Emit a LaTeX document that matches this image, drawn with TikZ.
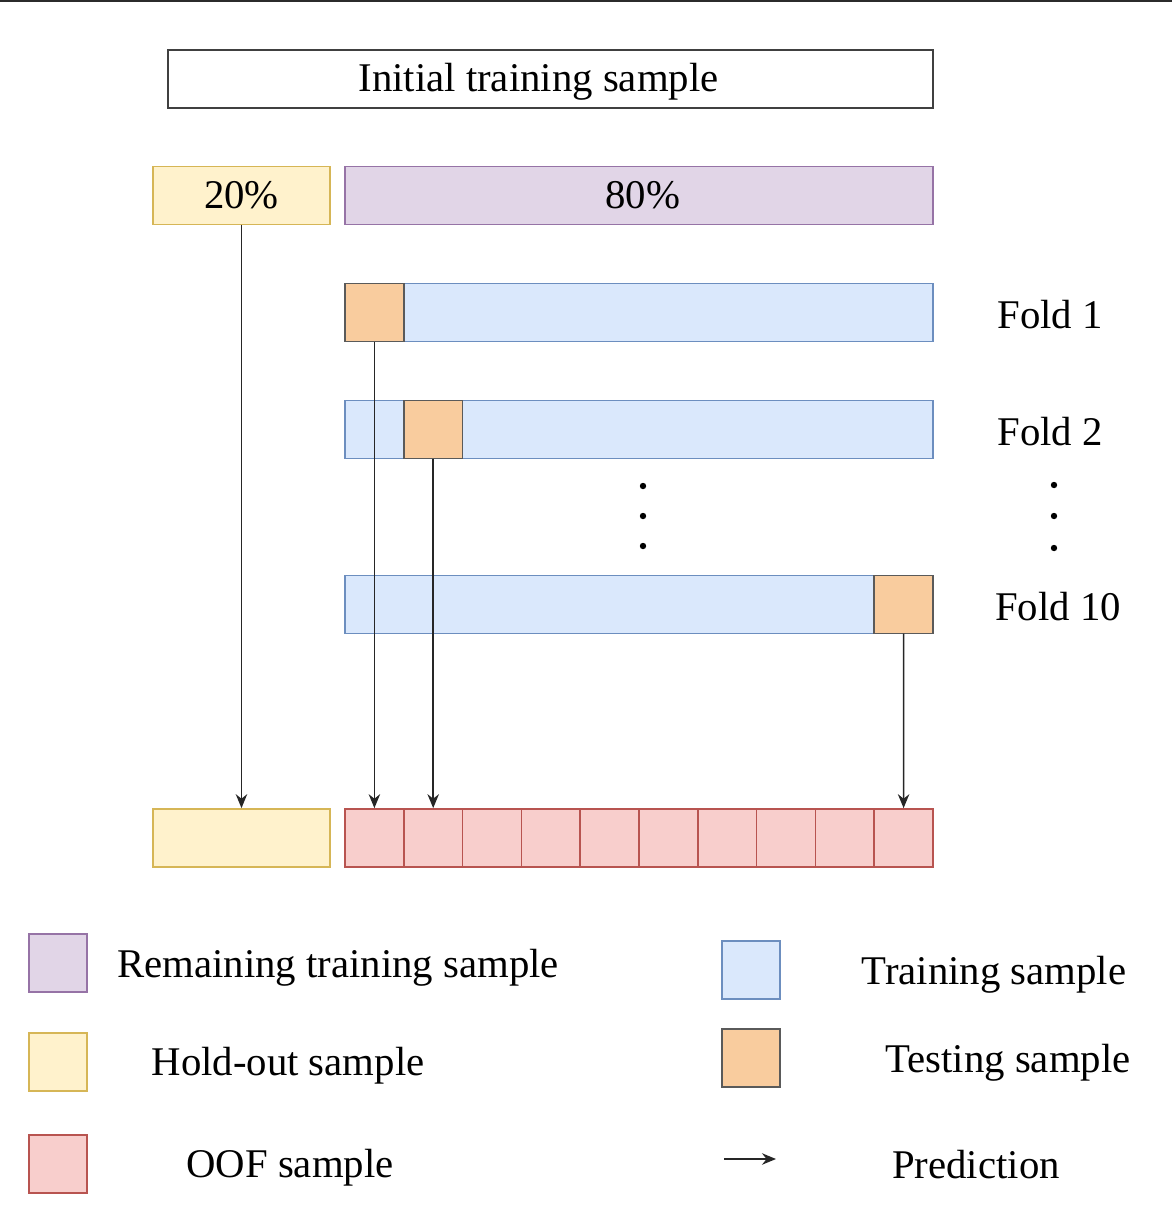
\documentclass[tikz,border=0pt]{standalone}
\usepackage{fontspec}
\setmainfont{Liberation Serif}
\usepackage{tikz}
\usetikzlibrary{arrows.meta, positioning}
\usepackage{xcolor}
\definecolor{holdFill}{HTML}{FFF2CC}
\definecolor{holdLine}{HTML}{D6B656}
\definecolor{remFill}{HTML}{E1D5E7}
\definecolor{remLine}{HTML}{9673A6}
\definecolor{trainFill}{HTML}{DAE8FC}
\definecolor{trainLine}{HTML}{6C8EBF}
\definecolor{testFill}{HTML}{F9CC9E}
\definecolor{testLine}{HTML}{5A5A5A}
\definecolor{oofFill}{HTML}{F8CECC}
\definecolor{oofLine}{HTML}{B85450}
\definecolor{frameGray}{HTML}{2B2B2B}

\begin{document}
\begin{tikzpicture}[
  x=0.02cm, y=-0.02cm,
  font=\fontsize{23.2}{28}\selectfont,
  >={Stealth[length=2.8mm, width=2.3mm]},
  box/.style={rectangle, line width=0.9pt, inner sep=0pt, outer sep=0pt,
              minimum height=1.16cm},
  initbox/.style={box, draw=black!75, fill=white, minimum width=15.3cm,
                  text height=0.68cm, text depth=0.18cm},
  holdbox/.style={box, draw=holdLine, fill=holdFill, minimum width=3.54cm},
  rembox/.style={box, draw=remLine, fill=remFill, minimum width=11.76cm},
  trainbar/.style={box, draw=trainLine, fill=trainFill, minimum width=11.76cm},
  testcell/.style={box, draw=testLine, fill=testFill, minimum width=1.176cm},
  oofcell/.style={box, draw=oofLine, fill=oofFill, minimum width=1.176cm},
  legsq/.style={box, minimum width=1.16cm},
  arrow/.style={->, draw=black!85, line width=0.8pt},
]

% ── Canvas ─────────────────────────────────────────────────────────
\useasboundingbox (0,0) rectangle (1172,1218);
\draw[frameGray, line width=1.4pt] (0,1) -- (1172,1);

% ── Grid coordinates (pixels of the reference) ─────────────────────
\def\colH{153}      % hold-out column left x
\def\colB{345}      % bar column left x
\def\colE{933}      % bar column right x
\def\rowI{79}       % initial sample row y
\def\rowS{195.5}    % split row y
\def\rowA{312.5}    % fold 1 row y
\def\rowF{429.5}    % fold 2 row y
\def\rowT{604.5}    % fold 10 row y
\def\rowO{838}      % out-of-fold row y

% ── Nodes ──────────────────────────────────────────────────────────
\node[initbox] (init) at (550.5,\rowI) {\hspace*{-0.48cm}Initial training sample};

\node[holdbox, anchor=west] (pct20) at (\colH,\rowS) {20\%};
\node[rembox,  anchor=west] (pct80) at (\colB,\rowS) {\hspace*{0.16cm}80\%};

\node[trainbar, anchor=west] (fold1) at (\colB,\rowA) {};
\node[trainbar, anchor=west] (fold2) at (\colB,\rowF) {};
\node[trainbar, anchor=west] (fold10) at (\colB,\rowT) {};

\node[testcell, anchor=west] (test1)  at (\colB,\rowA) {};
\node[testcell, anchor=west] (test2)  at (\colB+58.8,\rowF) {};
\node[testcell, anchor=east] (test10) at (\colE,\rowT) {};

\node (lab1)  at (1050,\rowA+2) {Fold 1};
\node (lab2)  at (1050,\rowF+2) {Fold 2};
\node (lab10) at (1058,\rowT+2) {Fold 10};

% vertical ellipses
\foreach \y in {486,516,546} \fill (643,\y) circle (3.2);
\foreach \y in {485,516,548} \fill (1054,\y) circle (3.2);

\node[holdbox, anchor=west] (holdout) at (\colH,\rowO) {};
\foreach \i in {0,...,9}
  \node[oofcell, anchor=west] (oof\i) at (\colB+58.8*\i,\rowO) {};

% ── Predictions ────────────────────────────────────────────────────
\draw[arrow] (pct20.south)  -- ([yshift=0.5pt]holdout.north);
\draw[arrow] (test1.south)  -- ([yshift=0.5pt]oof0.north);
\draw[arrow] (test2.south)  -- ([yshift=0.5pt]oof1.north);
\draw[arrow] (test10.south) -- ([yshift=0.5pt]oof9.north);

% ── Legend ─────────────────────────────────────────────────────────
\node[legsq, draw=remLine, fill=remFill, anchor=north west]     (legRem)   at (29,934) {};
\node[legsq, draw=holdLine, fill=holdFill, anchor=north west]   (legHold)  at (29,1033) {};
\node[legsq, draw=oofLine, fill=oofFill, anchor=north west]     (legOof)   at (29,1135) {};
\node[legsq, draw=trainLine, fill=trainFill, anchor=north west] (legTrain) at (722,941) {};
\node[legsq, draw=testLine, fill=testFill, anchor=north west]   (legTest)  at (722,1029) {};

\coordinate (predA) at (724,1159);
\coordinate (predB) at (776,1159);
\draw[arrow] (predA) -- (predB);

\node (txtRem)   at (338,968)  {Remaining training sample};
\node (txtHold)  at (288,1066) {Hold-out sample};
\node (txtOof)   at (290,1168) {OOF sample};
\node (txtTrain) at (994,975)  {Training sample};
\node (txtTest)  at (1008,1063) {Testing sample};
\node (txtPred)  at (976,1165) {Prediction};

\end{tikzpicture}
\end{document}
